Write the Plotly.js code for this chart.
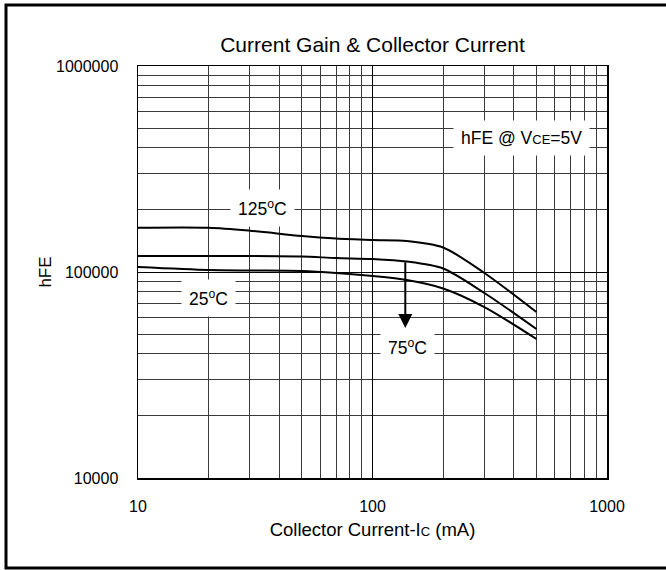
<!DOCTYPE html>
<html>
<head>
<meta charset="utf-8">
<script src="https://cdn.plot.ly/plotly-3.0.1.min.js"></script>
<style>
html,body{margin:0;padding:0;background:#fff;overflow:hidden;}
#chart{width:666px;height:570px;}
</style>
</head>
<body>
<div id="chart"></div>
<script>
// Collector current (mA)
const currentIC = [10, 20, 30, 50, 70, 100, 140, 200, 300, 500];
// hFE at each temperature
const hfe125 = [164000, 164000, 158700, 149600, 145400, 143000, 141400, 131500, 98900, 63900];
const hfe75  = [119600, 119600, 119600, 118900, 116900, 115600, 112400, 104000, 79100, 52900];
const hfe25  = [105800, 102300, 101700, 101100, 98900, 95600, 91400, 83200, 67600, 47300];
const seriesNames = ['125°C', '75°C', '25°C'];
const xTicks = [10, 100, 1000];
const yTicks = [10000, 100000, 1000000];
const xMinor = [20,30,40,50,60,70,80,90,200,300,400,500,600,700,800,900];
const yMinor = [20000,30000,40000,50000,60000,70000,80000,90000,200000,300000,400000,500000,600000,700000,800000,900000];

const FONT = 'Liberation Sans, Arial, Helvetica, sans-serif';
const L = Math.log10;

const lineStyle = {color:'#000', width:2, shape:'spline', smoothing:0.8};
const traces = [
  {x: currentIC, y: hfe125, name: seriesNames[0], mode:'lines', line: lineStyle},
  {x: currentIC, y: hfe75,  name: seriesNames[1], mode:'lines', line: lineStyle},
  {x: currentIC, y: hfe25,  name: seriesNames[2], mode:'lines', line: lineStyle}
];

const lab = (x, y, text) => ({
  x: L(x), y: L(y), xref:'x', yref:'y', text: text, showarrow:false,
  font:{family:FONT, size:17.5, color:'#000'}, bgcolor:'#fff', borderpad:7
});

const pl = {l:138, r:59, t:66, b:92};
const pw = 666 - pl.l - pl.r, ph = 570 - pl.t - pl.b;
const px = v => (v - pl.l) / pw;
const py = v => (570 - pl.b - v) / ph;

const layout = {
  width:666, height:570,
  margin: pl,
  paper_bgcolor:'#fff', plot_bgcolor:'#fff',
  showlegend:false,
  font:{family:FONT, color:'#000'},
  title:{text:'Current Gain &amp; Collector Current', font:{family:FONT, size:21, color:'#000'},
         x:0.5, xref:'paper', xanchor:'center', y:1 - 45/570, yanchor:'middle'},
  xaxis:{
    type:'log', range:[1,3], tickvals:xTicks, ticktext:xTicks.map(String),
    tickfont:{family:FONT, size:16, color:'#000'}, ticks:'', ticklabelstandoff:13,
    showgrid:true, gridcolor:'#000', gridwidth:1,
    minor:{tickvals:xMinor, showgrid:true, gridcolor:'#3a3a3a', gridwidth:1, ticks:''},
    showline:true, linecolor:'#000', linewidth:1.5, mirror:true, zeroline:false,
    title:{text:'Collector Current-I<span style="font-size:13px">C</span> (mA)', font:{family:FONT, size:18.5, color:'#000'}, standoff:9}
  },
  yaxis:{
    type:'log', range:[4,6], tickvals:yTicks, ticktext:yTicks.map(String),
    tickfont:{family:FONT, size:16, color:'#000'}, ticks:'', ticklabelstandoff:15,
    showgrid:true, gridcolor:'#000', gridwidth:1,
    minor:{tickvals:yMinor, showgrid:true, gridcolor:'#3a3a3a', gridwidth:1, ticks:''},
    showline:true, linecolor:'#000', linewidth:1.5, mirror:true, zeroline:false,
    title:{text:'hFE', font:{family:FONT, size:17, color:'#000'}, standoff:0}
  },
  annotations:[
    lab(34, 204000, '125<sup>o</sup>C'),
    lab(20, 74800, '25<sup>o</sup>C'),
    lab(141, 43300, '75<sup>o</sup>C'),
    lab(434, 447000, 'hFE @ V<span style="font-size:13px">CE</span>=5V'),
    {x:L(138), y:L(53500), ax:L(138), ay:L(113500), xref:'x', yref:'y', axref:'x', ayref:'y',
     text:'', showarrow:true, arrowhead:2, arrowsize:1.4, arrowwidth:2, arrowcolor:'#000', standoff:0, startstandoff:0}
  ],
  shapes:[
    {type:'rect', xref:'paper', yref:'paper', x0:px(6), x1:px(700), y0:py(568), y1:py(5),
     line:{color:'#000', width:3}, fillcolor:'rgba(0,0,0,0)', layer:'above'}
  ]
};

Plotly.newPlot('chart', traces, layout, {staticPlot:true, displayModeBar:false});
</script>
</body>
</html>
